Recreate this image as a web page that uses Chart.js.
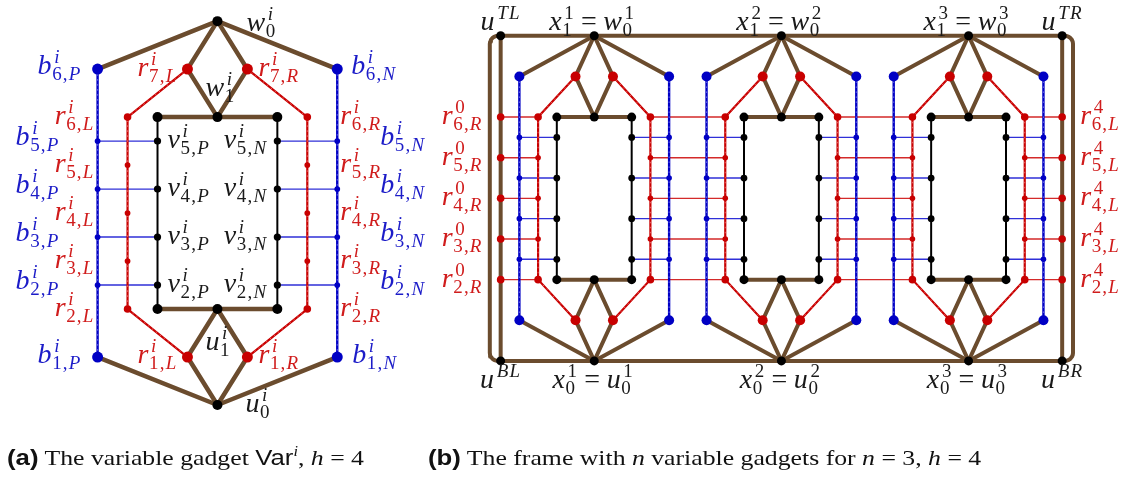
<!DOCTYPE html>
<html lang="en">
<head>
<meta charset="UTF-8">
<title>Variable gadget and frame</title>
<script src="https://cdn.jsdelivr.net/npm/chart.js"></script>
<style>
  html, body { margin: 0; padding: 0; background: #ffffff; }
  #wrap { position: relative; width: 1136px; height: 477px; overflow: hidden; }
  #chartBox { position: absolute; left: 0; top: 0; width: 1136px; height: 477px; }
  .cap {
    position: absolute; top: 446px; white-space: nowrap; color: #111;
    font-family: "Liberation Serif", serif; font-size: 22px; line-height: 24px;
    transform: scaleX(1.17); transform-origin: 0 0;
  }
  .cap .tag { font-family: "Liberation Sans", sans-serif; font-weight: bold; }
  .cap .sf { font-family: "Liberation Sans", sans-serif; }
  .cap sup { font-size: 14px; line-height: 0; vertical-align: 9px; }
  #capA { left: 7px; }
  #capB { left: 428px; }
</style>
</head>
<body>
<div id="wrap">
  <div id="chartBox"><canvas id="fig"></canvas></div>
  <div class="cap" id="capA"><span class="tag">(a)</span> The variable gadget <span class="sf">Var</span><sup><i>i</i></sup>, <i>h</i> = 4</div>
  <div class="cap" id="capB"><span class="tag">(b)</span> The frame with <i>n</i> variable gadgets for <i>n</i> = 3, <i>h</i> = 4</div>
</div>

<script>
    // ---- one variable gadget on a grid: columns 0..8, rows 0..16 (rows grow downward) ----
    const hubNodes = [[4, 0], [4, 4], [4, 12], [4, 16]];      // w0, w1, u1, u0
    const barEnds = [[2, 4], [6, 4], [2, 12], [6, 12]];
    const vRows = [5, 7, 9, 11];                               // v_5..v_2 and b_5..b_2
    const vNames = ['5', '4', '3', '2'];
    const rRows = [4, 6, 8, 10, 12];                           // r_6..r_2
    const rNames = ['6', '5', '4', '3', '2'];
    const bEnds = [[0, 2], [8, 2], [0, 14], [8, 14]];          // b_6 and b_1
    const rTips = [[3, 2], [5, 2], [3, 14], [5, 14]];          // r_7 and r_1

    const brownEdges = [
        [[4, 0], [0, 2]], [[4, 0], [3, 2]], [[4, 0], [5, 2]], [[4, 0], [8, 2]],
        [[3, 2], [4, 4]], [[5, 2], [4, 4]], [[2, 4], [6, 4]],
        [[4, 16], [0, 14]], [[4, 16], [3, 14]], [[4, 16], [5, 14]], [[4, 16], [8, 14]],
        [[3, 14], [4, 12]], [[5, 14], [4, 12]], [[2, 12], [6, 12]]
    ];
    const redPaths = [[[3, 2], [1, 4], [1, 12], [3, 14]], [[5, 2], [7, 4], [7, 12], [5, 14]]];
    const bluePaths = [[[0, 2], [0, 14]], [[8, 2], [8, 14]]];
    const blackPaths = [[[2, 4], [2, 12]], [[6, 4], [6, 12]]];

    // ---- the frame (panel b): gadgets start at these columns ----
    const gadgetCols = [1, 11, 21];
    const frameNodes = [[0, 0], [30, 0], [0, 16], [30, 16]];
    const frameSides = [[[0, 0], [0, 16]], [[30, 0], [30, 16]]];

    const BROWN = '#6b4c2e', RED = '#c80000', BLUE = '#0000c4', BLACK = '#000000';
    const RED_TXT = '#d01c1c', BLUE_TXT = '#1c1cc8', INK = '#1a1a1a';

    // grid -> pixel: origin and unit per panel (used only for scale ranges)
    const PANEL = {
        a: { xId: 'x', yId: 'y', ox: 93, sx: 30.25, oy: 16, sy: 24.56, brown: 4.5, hub: 5, big: 5.5, mid: 3.8, small: 2.9, v: 3.6 },
        b: { xId: 'xb', yId: 'yb', ox: 500, sx: 18.9, oy: 31, sy: 20.8, brown: 4, hub: 4.5, big: 5, mid: 3.8, small: 2.8, v: 3.4 }
    };
    const W = 1136, H = 477;

    const datasets = [];
    function pts(list, dx) { return list.map(p => ({ x: p[0] + dx, y: p[1] })); }
    function line(p, list, dx, color, width, order, dash) {
        datasets.push({
            data: pts(list, dx), xAxisID: PANEL[p].xId, yAxisID: PANEL[p].yId,
            showLine: true, borderColor: color, borderWidth: width, borderDash: dash || [],
            borderCapStyle: dash ? 'butt' : 'round', borderJoinStyle: 'round',
            pointRadius: 0, pointHoverRadius: 0, tension: 0, fill: false, order: order
        });
    }
    function dots(p, list, dx, color, r) {
        datasets.push({
            data: pts(list, dx), xAxisID: PANEL[p].xId, yAxisID: PANEL[p].yId,
            showLine: false, pointRadius: r, pointHoverRadius: r,
            pointBackgroundColor: color, pointBorderColor: color, pointBorderWidth: 0, order: 0
        });
    }

    function gadget(p, dx) {
        const s = PANEL[p];
        brownEdges.forEach(e => line(p, e, dx, BROWN, s.brown, 6));
        blackPaths.forEach(e => line(p, e, dx, BLACK, 2, 3));
        redPaths.forEach(e => { line(p, e, dx, RED, 2.2, 2); line(p, e, dx, '#f07a7a', 0.8, 1, [1.5, 3.5]); });
        bluePaths.forEach(e => { line(p, e, dx, BLUE, 2.4, 2); line(p, e, dx, '#8080f0', 0.8, 1, [1.5, 3.5]); });
        vRows.forEach(r => {
            line(p, [[0, r], [2, r]], dx, '#3030d8', 1.4, 4);
            line(p, [[6, r], [8, r]], dx, '#3030d8', 1.4, 4);
        });
        dots(p, hubNodes.concat(barEnds), dx, BLACK, s.hub);
        dots(p, vRows.flatMap(r => [[2, r], [6, r]]), dx, BLACK, s.v);
        dots(p, bEnds, dx, BLUE, s.big);
        dots(p, vRows.flatMap(r => [[0, r], [8, r]]), dx, BLUE, s.small);
        dots(p, rTips, dx, RED, s.big);
        dots(p, [4, 12].flatMap(r => [[1, r], [7, r]]), dx, RED, s.mid);
        dots(p, [6, 8, 10].flatMap(r => [[1, r], [7, r]]), dx, RED, s.small);
    }

    function roundedFrame(x0, x1, y0, y1, rx, ry) {
        const out = [];
        const corners = [[x0 + rx, y0 + ry, Math.PI], [x1 - rx, y0 + ry, 1.5 * Math.PI],
                         [x1 - rx, y1 - ry, 0], [x0 + rx, y1 - ry, 0.5 * Math.PI]];
        corners.forEach(([cx, cy, a0]) => {
            for (let i = 0; i <= 6; i++) {
                const a = a0 + i / 6 * Math.PI / 2;
                out.push([cx + rx * Math.cos(a), cy + ry * Math.sin(a)]);
            }
        });
        out.push(out[0]);
        return out;
    }

    // panel (a)
    gadget('a', 0);

    // panel (b)
    gadgetCols.forEach(c => gadget('b', c));
    line('b', roundedFrame(-0.58, 30.58, 0, 16, 0.45, 0.4), 0, BROWN, 4, 6);
    frameSides.forEach(e => line('b', e, 0, BROWN, 4, 6));
    rRows.forEach(r => {
        const stops = [0].concat(gadgetCols.flatMap(c => [c + 1, c + 7]), [30]);
        for (let i = 0; i < stops.length; i += 2) {
            line('b', [[stops[i], r], [stops[i + 1], r]], 0, '#d42a2a', 1.4, 4);
        }
    });
    dots('b', rRows.flatMap(r => [[0, r], [30, r]]), 0, RED, 3.8);
    dots('b', frameNodes, 0, BLACK, 4.5);

    // ---- labels: [base, superscript, subscript] pieces ----
    const labels = [];
    function L(p, at, align, dx, dy, color, parts) { labels.push({ p, at, align, dx, dy, color, parts }); }

    L('a', [4, 0], 'left', 29, 10, INK, [['w', 'i', '0']]);
    L('a', [4, 4], 'left', -12, -21, INK, [['w', 'i', '1']]);
    L('a', [4, 12], 'left', -12, 41, INK, [['u', 'i', '1']]);
    L('a', [4, 16], 'left', 28, 7, INK, [['u', 'i', '0']]);
    L('a', [0, 2], 'right', -16, 5, BLUE_TXT, [['b', 'i', '6,P']]);
    L('a', [8, 2], 'left', 14, 5, BLUE_TXT, [['b', 'i', '6,N']]);
    L('a', [3, 2], 'right', -10, 7, RED_TXT, [['r', 'i', '7,L']]);
    L('a', [5, 2], 'left', 11, 7, RED_TXT, [['r', 'i', '7,R']]);
    L('a', [0, 14], 'right', -16, 6, BLUE_TXT, [['b', 'i', '1,P']]);
    L('a', [8, 14], 'left', 15, 6, BLUE_TXT, [['b', 'i', '1,N']]);
    L('a', [3, 14], 'right', -10, 6, RED_TXT, [['r', 'i', '1,L']]);
    L('a', [5, 14], 'left', 11, 6, RED_TXT, [['r', 'i', '1,R']]);
    vRows.forEach((r, k) => {
        L('a', [0, r], 'right', -38, 4, BLUE_TXT, [['b', 'i', vNames[k] + ',P']]);
        L('a', [8, r], 'left', 43, 4, BLUE_TXT, [['b', 'i', vNames[k] + ',N']]);
        L('a', [2, r], 'left', 10, 7, INK, [['v', 'i', vNames[k] + ',P']]);
        L('a', [6, r], 'right', -10, 7, INK, [['v', 'i', vNames[k] + ',N']]);
    });
    rRows.forEach((r, k) => {
        L('a', [1, r], 'right', -33, 7, RED_TXT, [['r', 'i', rNames[k] + ',L']]);
        L('a', [7, r], 'left', 33, 7, RED_TXT, [['r', 'i', rNames[k] + ',R']]);
        L('b', [0, r], 'right', -18, 7, RED_TXT, [['r', '0', rNames[k] + ',R']]);
        L('b', [30, r], 'left', 18, 7, RED_TXT, [['r', '4', rNames[k] + ',L']]);
    });
    L('b', [0, 0], 'center', 0, -6, INK, [['u', 'TL', '']]);
    L('b', [30, 0], 'center', 0, -6, INK, [['u', 'TR', '']]);
    L('b', [0, 16], 'center', 0, 27, INK, [['u', 'BL', '']]);
    L('b', [30, 16], 'center', 0, 27, INK, [['u', 'BR', '']]);
    gadgetCols.forEach((c, g) => {
        const n = String(g + 1);
        L('b', [c + 4, 0], 'center', -2, -6, INK, [['x', n, '1'], ['='], ['w', n, '0']]);
        L('b', [c + 4, 16], 'center', -1, 27, INK, [['x', n, '0'], ['='], ['u', n, '0']]);
    });

    const MAIN = 28, SCRIPT = 19, MAIN_SP = 0.6, SCRIPT_SP = 1.2;
    const SUP_UP = 11, SUB_DOWN = 6, EQ_PAD = 6;
    function fontOf(ch, size) {
        return (/[A-Za-z]/.test(ch) ? 'italic ' : '') + size + 'px "Liberation Serif", "DejaVu Serif", serif';
    }
    function spOf(size) { return size === MAIN ? MAIN_SP : SCRIPT_SP; }
    function runW(ctx, s, size) {
        let w = 0;
        for (const ch of s) { ctx.font = fontOf(ch, size); w += ctx.measureText(ch).width + spOf(size); }
        return w;
    }
    function runDraw(ctx, s, size, x, y) {
        for (const ch of s) {
            ctx.font = fontOf(ch, size);
            ctx.fillText(ch, x, y);
            x += ctx.measureText(ch).width + spOf(size);
        }
    }
    function partW(ctx, part) {
        if (part[0] === '=') return runW(ctx, '=', MAIN) + 2 * EQ_PAD;
        const [base, sup, sub] = part;
        const ws = Math.max(sup ? runW(ctx, sup, SCRIPT) + 2 : 0, sub ? runW(ctx, sub, SCRIPT) : 0);
        return runW(ctx, base, MAIN) + ws;
    }
    function drawMath(ctx, parts, x, y, align, color) {
        const total = parts.reduce((s, p) => s + partW(ctx, p), 0);
        let cx = align === 'right' ? x - total : align === 'center' ? x - total / 2 : x;
        ctx.fillStyle = color;
        for (const part of parts) {
            if (part[0] === '=') {
                runDraw(ctx, '=', MAIN, cx + EQ_PAD, y);
            } else {
                const [base, sup, sub] = part;
                runDraw(ctx, base, MAIN, cx, y);
                const bw = runW(ctx, base, MAIN);
                if (sup) runDraw(ctx, sup, SCRIPT, cx + bw + 2, y - SUP_UP);
                if (sub) runDraw(ctx, sub, SCRIPT, cx + bw, y + SUB_DOWN);
            }
            cx += partW(ctx, part);
        }
    }

    const mathLabels = {
        id: 'mathLabels',
        afterDatasetsDraw(chart) {
            const ctx = chart.ctx;
            ctx.save();
            ctx.textBaseline = 'alphabetic';
            labels.forEach(l => {
                const xs = chart.scales[PANEL[l.p].xId], ys = chart.scales[PANEL[l.p].yId];
                drawMath(ctx, l.parts, xs.getPixelForValue(l.at[0]) + l.dx,
                         ys.getPixelForValue(l.at[1]) + l.dy, l.align, l.color);
            });
            ctx.restore();
        }
    };

    function axis(p, dir) {
        const s = PANEL[p];
        const o = dir === 'x' ? s.ox : s.oy, u = dir === 'x' ? s.sx : s.sy, len = dir === 'x' ? W : H;
        return { type: 'linear', axis: dir, display: false, reverse: dir === 'y',
                 min: -o / u, max: (len - o) / u };
    }

    new Chart(document.getElementById('fig'), {
        type: 'scatter',
        data: { datasets: datasets },
        options: {
            responsive: true,
            maintainAspectRatio: false,
            animation: false,
            events: [],
            layout: { padding: 0 },
            plugins: { legend: { display: false }, tooltip: { enabled: false } },
            scales: { x: axis('a', 'x'), y: axis('a', 'y'), xb: axis('b', 'x'), yb: axis('b', 'y') }
        },
        plugins: [mathLabels]
    });
</script>
</body>
</html>
